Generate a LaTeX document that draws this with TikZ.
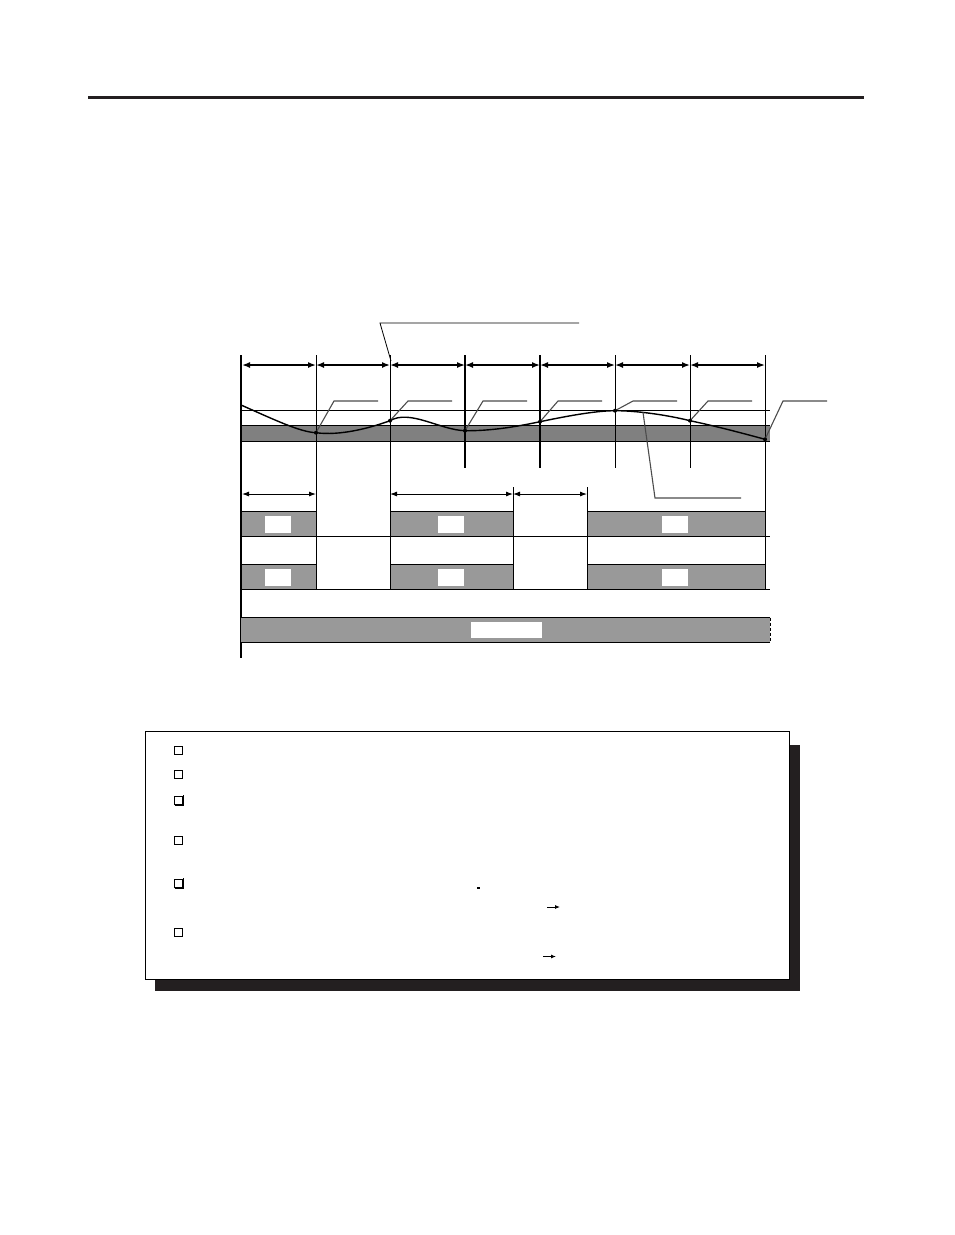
\documentclass[tikz,border=0pt]{standalone}
\usetikzlibrary{arrows.meta}
\definecolor{ink}{HTML}{231F20}
\definecolor{bandgray}{HTML}{808080}
\definecolor{rowgray}{HTML}{999999}
\tikzset{
  span/.style={{Latex[length=8pt,width=6pt]}-{Latex[length=8pt,width=6pt]}},
  thinspan/.style={{Latex[length=7pt,width=5pt]}-{Latex[length=7pt,width=5pt]},line width=0.9pt},
  leader/.style={black!70,line width=1.1pt},
  tag/.style={fill=white,inner sep=0pt,minimum width=26pt,minimum height=17pt},
  cell/.style={draw,fill=rowgray,line width=0.9pt},
  tickbox/.style={draw,line width=0.9pt,minimum size=8pt,inner sep=0pt}
}
\begin{document}
\begin{tikzpicture}[x=1pt,y=-1pt]
\useasboundingbox (0,0) rectangle (954,1235);
\draw[ink,line width=3pt] (88,97) -- (864,97);
% level band and reference line
\fill[bandgray] (241,425) rectangle (770,441);
\draw[line width=0.9pt] (241,425) -- (770,425) (241,441) -- (770,441);
\draw[line width=0.8pt] (241,410) -- (770,410);
% time marks
\draw[line width=2pt] (241,355) -- (241,658);
\foreach \x in {316,390,765} \draw[line width=1pt] (\x,355) -- (\x,589);
\foreach \x in {465,540} \draw[line width=1.6pt] (\x,355) -- (\x,468);
\foreach \x in {615,690} \draw[line width=0.9pt] (\x,355) -- (\x,468);
\foreach \x in {513,587} \draw[line width=1pt] (\x,487) -- (\x,589);
\foreach \a/\b in {242/316,316/390,390/465,465/540,540/615,615/690,690/765}
  \draw[span,line width=1.5pt] (\a,365) -- (\b,365);
\foreach \a/\b in {242/316,390/513,513/587}
  \draw[thinspan] (\a,494) -- (\b,494);
% curve
\coordinate (p0) at (241,405);
\coordinate (p1) at (316,432.7);
\coordinate (p2) at (390,420.7);
\coordinate (p3) at (465,430.7);
\coordinate (p4) at (540,421.7);
\coordinate (p5) at (615,410.7);
\coordinate (p6) at (690,420.7);
\coordinate (p7) at (765,439.3);
\coordinate (q) at (643,412.3);
\draw[line width=1.4pt] (p0) .. controls (275,420) and (300,432) .. (p1)
  .. controls (340,436) and (370,428) .. (p2)
  .. controls (410,409) and (440,430) .. (p3)
  .. controls (490,431) and (515,427) .. (p4)
  .. controls (565,416.5) and (595,410.7) .. (p5)
  .. controls (635,410.6) and (665,414.5) .. (p6)
  .. controls (715,426) and (740,432.5) .. (p7);
\foreach \i/\x in {1/316,2/390,3/465,4/540,5/615,6/690,7/765} {
  \draw[leader] (p\i) -- (\x+18,401) -- (\x+62,401);
  \fill (p\i) circle (2pt);
}
\draw[leader] (q) -- (655,498) -- (741,498);
\draw[line width=0.8pt] (391,361) -- (380,323) -- (579,323);
% rows
\foreach \a/\b/\c in {241/316/278,390/513/451,587/765/675} {
  \draw[cell] (\a,511.5) rectangle (\b,536.5);
  \draw[cell] (\a,564.5) rectangle (\b,589);
  \node[tag] (ua\c) at (\c,524.5) {};
  \node[tag] (ub\c) at (\c,577) {};
}
\draw[line width=0.9pt] (241,536.5) -- (770,536.5) (241,589) -- (770,589);
\fill[rowgray] (241,617.5) rectangle (770,642);
\draw[line width=0.9pt] (241,617.5) -- (770,617.5) (241,642) -- (770,642);
\draw[line width=0.9pt,dashed,dash pattern=on 3pt off 2pt] (770,617.5) -- (770,642);
\node[tag,minimum width=71pt,minimum height=16pt] (whole) at (506.5,629.5) {};
% note box
\fill[ink] (155,745) rectangle (800,991);
\draw[fill=white,line width=1pt] (145,731) rectangle (789,979);
\foreach \y [count=\k] in {750,774,800,840.5,883.5,932}
  \node[tickbox] (b\k) at (178,\y) {};
\foreach \k in {3,5}
  \draw[line width=1.3pt] (b\k.south west) ++(1,0.8) -| ([xshift=0.8pt,yshift=1pt]b\k.north east);
\fill (477,886.5) rectangle (480,888.5);
\draw[-{Latex[length=5pt,width=4pt]},line width=0.9pt] (547,907) -- (560,907);
\draw[-{Latex[length=5pt,width=4pt]},line width=0.9pt] (543,956.5) -- (556,956.5);
\end{tikzpicture}
\end{document}
